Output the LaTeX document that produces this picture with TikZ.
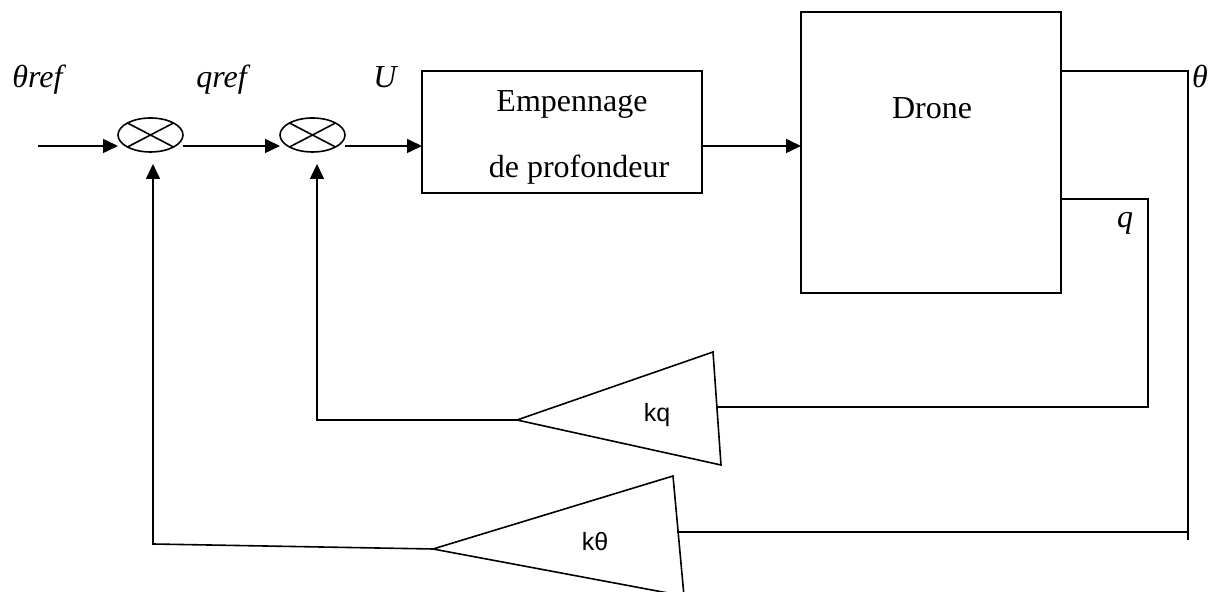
\documentclass[tikz,border=0pt]{standalone}
\usepackage{fontspec}
\setmainfont{Liberation Serif}
\newfontfamily\arialf{Liberation Sans}
\usetikzlibrary{arrows.meta,shapes.geometric}
\begin{document}
\begin{tikzpicture}[x=0.5pt,y=-0.5pt, line width=0.8pt,
  sumnode/.style={ellipse,draw,minimum width=32.5pt,minimum height=17pt,inner sep=0pt,outer sep=0pt},
  blockbox/.style={draw,rectangle,inner sep=0pt,outer sep=0pt},
  sig/.style={-{Triangle[length=7.5pt,width=7pt]}},
  lbl/.style={font=\fontsize{16}{19}\selectfont\itshape, anchor=base, inner sep=0pt},
  boxtxt/.style={font=\fontsize{16}{19}\selectfont, anchor=base, inner sep=0pt},
  gain/.style={font=\arialf\fontsize{12.5}{15}\selectfont, inner sep=0pt}]
\useasboundingbox (0,0) rectangle (1216,592);

% summing junctions
\node[sumnode] (s1) at (150.5,135) {};
\node[sumnode] (s2) at (312.5,135) {};
\foreach \s in {s1,s2}{
  \draw ([shift={(-23,-12)}]\s.center) -- ([shift={(23,12)}]\s.center);
  \draw ([shift={(23,-12)}]\s.center) -- ([shift={(-23,12)}]\s.center);
}

% blocks
\node[blockbox, minimum width=140pt, minimum height=61pt] (emp) at (562,132) {};
\node[boxtxt] (emp1) at (572,112) {Empennage};
\node[boxtxt] (emp2) at (579,178) {de profondeur};
\node[blockbox, minimum width=130pt, minimum height=140.5pt] (drone) at (931,152.5) {};
\node[boxtxt] (dronetxt) at (932,119) {Drone};

% forward path
\coordinate (in) at (38,146);
\draw[sig] (in) -- (in -| s1.west);
\draw[sig] (in -| s1.east) -- (in -| s2.west);
\draw[sig] (in -| s2.east) -- (in -| emp.west);
\draw[sig] (in -| emp.east) -- (in -| drone.west);

% outputs
\coordinate (thc) at (1188,71);
\coordinate (thb) at (1188,540);
\draw (drone.east |- thc) -- (thc) -- (thb);
\coordinate (qc) at (1148,199);
\coordinate (qb) at (1148,407);
\coordinate (kqE) at (717,407);
\draw (drone.east |- qc) -- (qc) -- (qb) -- (kqE);

% kq gain
\coordinate (kqA) at (517,420);
\coordinate (kqB) at (713,352);
\coordinate (kqC) at (721,465);
\draw (kqA) -- (kqB) -- (kqC) -- cycle;
\node[gain] (kq) at (657,415) {kq};
\coordinate (s2in) at (317,164);
\draw[sig] (kqA) -| (s2in);

% ktheta gain
\coordinate (ktin) at (1188,532);
\coordinate (ktE) at (677,532);
\draw (ktin) -- (ktE);
\coordinate (ktA) at (433,549);
\coordinate (ktB) at (673,476);
\coordinate (ktC) at (684,596);
\draw (ktA) -- (ktB) -- (ktC) -- cycle;
\node[gain] (kt) at (595,542) {kθ};
\coordinate (ktL) at (153,544);
\coordinate (s1in) at (153,164);
\draw[sig] (ktA) -- (ktL) -- (s1in);

% labels
\node[lbl] (lthref) at (37.5,88) {θref};
\node[lbl] (lqref) at (221.5,88) {qref};
\node[lbl] (lU) at (385,88) {U};
\node[lbl] (lth) at (1200,88) {θ};
\node[lbl] (lq) at (1125,228) {q};
\end{tikzpicture}
\end{document}
